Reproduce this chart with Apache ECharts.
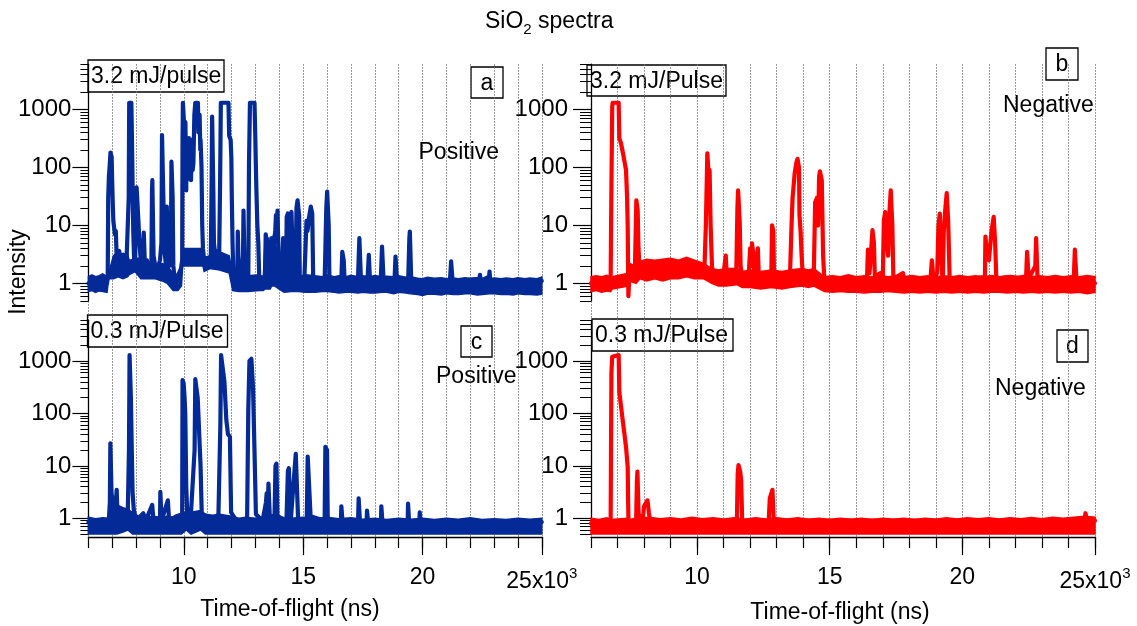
<!DOCTYPE html>
<html>
<head>
<meta charset="utf-8">
<script src="https://cdn.jsdelivr.net/npm/echarts@6/dist/echarts.min.js"></script>
<style>
html,body{margin:0;padding:0;background:#fff;}
#chart{width:1137px;height:626px;}
</style>
</head>
<body>
<div id="chart"></div>
<script>
// ---------------- data ----------------
const yMajorTicks = [1, 10, 100, 1000];
const yMinorTicks = [0.5,0.6,0.7,0.8,0.9,2,3,4,5,6,7,8,9,20,30,40,50,60,70,80,90,200,300,400,500,600,700,800,900,2000,3000,4000,5000,6000];
const xMajorTicks = [10000, 15000, 20000, 25000];

// panel a : positive, 3.2 mJ/pulse  [time-of-flight ns, intensity]
const tracePos32 = [[6000,1.0],[6780,1.0],[6810,1.3],[6830,30],[6860,70],[6900,120],[6925,180],[6950,180],[6975,150],[6995,60],[7020,25],[7045,12],[7080,9],[7110,7],[7150,8],[7180,3.2],[7240,3],[7290,3.6],[7340,2.8],[7400,2.6],[7460,3.1],[7520,2.2],[7600,2.6],[7660,2.8],[7690,30],[7710,1300],[7800,1300],[7825,300],[7850,55],[7880,8],[7920,2.2],[7960,2.5],[7990,10],[8020,45],[8070,48],[8095,12],[8130,6],[8180,3],[8240,2.4],[8300,4],[8320,7.5],[8345,7.5],[8370,2],[8450,2.5],[8550,1.6],[8640,2],[8665,40],[8680,60],[8705,60],[8730,3],[8800,2],[8900,1.8],[9000,2.5],[9060,5],[9085,360],[9110,360],[9140,30],[9180,4],[9250,2],[9285,21],[9310,21],[9335,3],[9400,2],[9460,4],[9480,125],[9505,125],[9530,30],[9560,2],[9620,1.1],[9700,1.1],[9800,1.5],[9880,1.8],[9930,2.5],[9945,300],[9960,1300],[10005,1300],[10030,400],[10045,100],[10065,600],[10085,150],[10100,40],[10115,300],[10130,60],[10150,300],[10170,120],[10185,250],[10210,320],[10230,80],[10250,180],[10280,300],[10300,60],[10320,150],[10350,250],[10370,90],[10400,120],[10440,800],[10480,1300],[10590,1300],[10610,400],[10630,600],[10660,800],[10690,200],[10700,300],[10740,100],[10770,10],[10800,4],[10850,2.5],[10950,2.2],[11050,2.5],[11130,3],[11165,60],[11185,750],[11205,750],[11235,40],[11260,5],[11320,3],[11400,3.5],[11480,3],[11520,60],[11550,1300],[11870,1300],[11900,350],[11960,300],[11990,150],[12010,30],[12040,5],[12080,1.2],[12150,1],[12240,1.2],[12260,7.8],[12285,7.8],[12310,1.2],[12400,1.1],[12480,3],[12500,18],[12525,18],[12550,1.2],[12650,1],[12700,1.2],[12730,120],[12770,1300],[12960,1300],[12990,400],[13030,60],[13080,10],[13120,5],[13160,1.2],[13300,1],[13400,1.2],[13430,7],[13480,5],[13530,1.1],[13600,4],[13680,6],[13720,3],[13780,5],[13830,8],[13860,15],[13890,8],[13925,18],[13955,18],[13990,1.2],[14100,1.1],[14160,6],[14185,6],[14210,1.1],[14280,1.2],[14310,14],[14360,16],[14400,10],[14430,1],[14470,12],[14510,17],[14535,17],[14560,3],[14600,1],[14680,1.2],[14720,20],[14765,27],[14795,27],[14830,15],[14860,1],[14950,1],[15050,1.2],[15140,12],[15180,8],[15250,14],[15320,21],[15350,21],[15380,16],[15420,1.2],[15500,1],[15700,1.1],[15900,1.1],[15970,20],[16005,38],[16035,38],[16070,10],[16100,1.2],[16300,1.1],[16600,1.2],[16640,3.5],[16665,3.5],[16700,2.5],[16740,1],[17000,1.1],[17300,1.3],[17355,6],[17385,6],[17420,1.2],[17700,1.2],[17750,3.1],[17775,3.1],[17800,1.1],[18250,1.1],[18305,4.3],[18335,4.3],[18370,1.1],[18830,1.2],[18870,2.9],[18895,2.9],[18930,1.1],[19400,1.1],[19450,6],[19470,7.8],[19495,7.8],[19530,1.1],[21150,1.1],[21200,2.4],[21225,2.4],[21260,1.1],[22380,1.2],[22410,1.4],[22440,1.1],[22790,1.3],[22810,1.6],[22840,1.1],[25000,1.1]];
// noise band of panel a  [ns, low edge, high edge]
const noisePos32 = [[6000,0.72,1.3],[6150,0.75,1.4],[6300,0.7,1.3],[6450,0.74,1.35],[6600,0.72,1.45],[6780,0.7,1.3],[6850,1.2,1.5],[7050,1.2,3],[7250,1.3,3.5],[7450,1.2,3],[7650,1.3,3.2],[7700,1.4,2.5],[7950,1.6,2.6],[8200,1.2,2.8],[8500,1.2,2.2],[8800,1.2,2.1],[9100,1.1,2.2],[9300,1.0,2],[9550,0.75,1.5],[9750,0.75,1.3],[9900,0.9,2],[9950,2,4],[10800,2,4],[10850,1.6,2.8],[11100,1.8,3],[11500,1.7,3.5],[11900,1.5,3],[12050,0.75,1.4],[12300,0.72,1.3],[12700,0.72,1.35],[13150,0.75,1.4],[13330,0.75,1.3],[13400,0.8,5],[13560,0.8,6],[13620,0.8,1.3],[13680,0.9,5],[13800,0.9,8],[13980,0.8,1.4],[14200,0.7,1.3],[14500,0.72,1.35],[14800,0.72,1.3],[15100,0.7,1.4],[15500,0.7,1.35],[15800,0.72,1.3],[16000,0.72,1.4],[16300,0.7,1.3],[16500,0.68,1.35],[16800,0.7,1.3],[17000,0.7,1.38],[17300,0.68,1.3],[17500,0.7,1.35],[17800,0.68,1.3],[18000,0.68,1.36],[18300,0.7,1.3],[18500,0.7,1.32],[18800,0.66,1.3],[19000,0.7,1.35],[19300,0.68,1.28],[19500,0.66,1.3],[19800,0.64,1.22],[20000,0.62,1.2],[20200,0.65,1.27],[20500,0.65,1.22],[20800,0.63,1.25],[21000,0.66,1.2],[21300,0.64,1.24],[21500,0.64,1.2],[21800,0.66,1.25],[22000,0.66,1.2],[22300,0.63,1.24],[22500,0.64,1.22],[22800,0.66,1.2],[23000,0.66,1.24],[23300,0.64,1.2],[23500,0.65,1.24],[23800,0.63,1.2],[24000,0.66,1.25],[24300,0.64,1.2],[24500,0.64,1.24],[24800,0.63,1.2],[25000,0.65,1.28]];

// panel b : negative, 3.2 mJ/pulse
const traceNeg32 = [[6000,1.0],[6740,1.1],[6770,50],[6800,1100],[6816,1300],[7043,1300],[7068,320],[7130,260],[7200,180],[7320,90],[7360,30],[7383,10],[7410,0.6],[7430,0.6],[7450,1.5],[7500,2],[7550,1.2],[7600,2],[7650,1.3],[7690,10],[7710,27],[7735,27],[7760,18],[7790,4],[7830,1.8],[7900,2],[8000,1.6],[8200,2.1],[8500,1.7],[8800,2.2],[9100,1.8],[9400,2.3],[9700,1.9],[10000,2.2],[10200,1.8],[10280,2],[10330,10],[10365,60],[10385,175],[10410,175],[10440,70],[10470,90],[10510,10],[10560,2],[10620,1.2],[10800,1.3],[11000,1.5],[11080,3],[11120,1.3],[11480,1.8],[11520,20],[11545,40],[11570,40],[11605,12],[11640,2],[11700,1.3],[11950,1.5],[12000,4],[12040,2],[12070,4.9],[12095,4.9],[12130,3],[12160,1.2],[12260,3],[12290,4],[12330,1.2],[12600,1.2],[12800,1.5],[12825,10],[12850,10],[12875,8],[12900,1.2],[13200,1.2],[13500,1.3],[13560,10],[13600,30],[13680,80],[13740,120],[13785,140],[13815,140],[13840,100],[13860,15],[13900,8],[13940,3],[13980,1.5],[14100,1.6],[14200,1.2],[14400,1.5],[14450,25],[14520,30],[14560,10],[14600,70],[14630,85],[14660,85],[14700,60],[14750,3],[14800,1.1],[16400,1.0],[16440,3.8],[16465,3.8],[16500,1.5],[16580,5],[16610,8.3],[16635,8.3],[16665,5],[16700,1.3],[16900,1.5],[17000,1.2],[17040,12],[17090,17],[17150,5],[17200,3],[17260,20],[17300,40],[17330,40],[17360,10],[17400,1.2],[17760,1.5],[17800,1.2],[18800,1.2],[18850,2.5],[18875,2.5],[18910,1.2],[19050,1.5],[19100,10],[19150,16],[19200,3],[19260,1],[19300,8],[19360,20],[19410,36],[19435,36],[19465,12],[19520,1.2],[20000,1.1],[20850,1.3],[20870,6.4],[20895,6.4],[20930,3],[21000,2.5],[21100,8],[21180,14],[21205,14],[21235,5],[21280,1.2],[21800,1.3],[22400,1.2],[22440,3.5],[22465,3.5],[22500,1.2],[22750,2],[22780,6],[22805,6],[22835,1.2],[24200,1.2],[24240,3.8],[24265,3.8],[24300,1.2],[25000,1.0]];
const noiseNeg32 = [[6000,0.72,1.3],[6200,0.75,1.35],[6400,0.7,1.3],[6600,0.74,1.38],[6740,0.72,1.3],[6800,0.8,1.3],[7400,0.9,1.5],[7450,1.1,2.2],[7700,1.0,2],[7850,1.2,2.4],[8100,1.1,2.6],[8400,1.2,2.5],[8700,1.1,2.6],[9000,1.2,2.7],[9300,1.2,2.5],[9600,1.3,2.8],[9900,1.2,2.5],[10250,1.2,2.2],[10550,1.0,1.8],[10800,0.9,1.7],[11100,0.9,1.8],[11500,0.95,1.8],[11700,0.85,1.6],[12000,0.85,1.7],[12400,0.8,1.6],[12800,0.85,1.7],[13200,0.8,1.6],[13500,0.85,1.7],[13950,0.9,1.8],[14200,0.85,1.7],[14400,0.9,1.8],[14800,0.72,1.3],[15100,0.7,1.35],[15400,0.72,1.3],[15700,0.7,1.4],[16000,0.7,1.3],[16300,0.68,1.35],[16600,0.7,1.3],[16900,0.7,1.36],[17200,0.72,1.3],[17500,0.7,1.35],[17800,0.68,1.3],[18100,0.7,1.36],[18400,0.68,1.3],[18700,0.7,1.35],[19000,0.68,1.3],[19300,0.7,1.35],[19600,0.68,1.3],[19900,0.7,1.36],[20200,0.68,1.3],[20500,0.7,1.35],[20800,0.68,1.3],[21100,0.7,1.36],[21400,0.7,1.3],[21700,0.68,1.35],[22000,0.7,1.3],[22300,0.68,1.36],[22600,0.7,1.3],[22900,0.68,1.35],[23200,0.7,1.3],[23500,0.68,1.36],[23800,0.7,1.3],[24100,0.68,1.35],[24400,0.7,1.3],[24700,0.66,1.36],[25000,0.7,1.3]];

// panel c : positive, 0.3 mJ/pulse
const tracePos03 = [[6000,0.85],[6850,0.85],[6900,2],[6920,27],[6945,27],[6970,3],[7010,2.2],[7060,1],[7150,2],[7185,3.5],[7220,1.2],[7300,1.5],[7400,1.2],[7500,1.2],[7650,1.3],[7700,20],[7725,1300],[7755,1300],[7780,200],[7810,30],[7850,3.2],[7900,1.5],[8000,0.9],[8300,1.25],[8400,0.9],[8675,1.8],[8700,1.8],[8725,0.9],[9000,0.9],[9015,3.2],[9040,3.2],[9065,0.9],[9330,2.2],[9355,2.2],[9380,0.9],[9700,1.1],[9930,1.2],[9945,430],[9990,380],[10030,200],[10060,100],[10100,4],[10150,1],[10300,1.3],[10450,20],[10480,450],[10530,430],[10580,200],[10660,210],[10700,10],[10750,1.2],[11000,1.1],[11300,1],[11450,1.2],[11530,60],[11560,1300],[11640,1350],[11700,400],[11780,75],[11850,40],[11930,36],[11980,1.3],[12200,0.9],[12650,0.9],[12700,117],[12750,1000],[12830,1100],[12900,300],[12960,20],[13020,1.2],[13300,0.9],[13440,2],[13470,3],[13500,0.9],[13545,4.6],[13570,4.6],[13600,1.1],[13800,1.1],[13840,10],[13880,11],[13920,1.1],[14300,0.9],[14360,8],[14400,9],[14440,8.3],[14480,0.9],[14690,17],[14750,17],[14790,0.9],[15150,0.9],[15190,15],[15270,15],[15310,1.1],[15900,0.9],[15930,23],[15975,23],[16000,20],[16030,0.9],[16580,0.85],[16600,1.7],[16625,1.7],[16650,0.85],[17300,0.85],[17325,2.4],[17350,2.4],[17380,0.85],[17660,0.85],[17675,1.4],[17700,1.4],[17720,0.85],[18260,0.85],[18275,1.7],[18300,1.7],[18320,0.85],[19380,0.85],[19395,1.9],[19420,1.9],[19440,0.85],[19870,0.85],[19885,1.3],[19905,1.3],[19920,0.85],[25000,0.85]];
const noisePos03 = [[6000,0.5,1.05],[6300,0.5,0.98],[6600,0.5,1.02],[6850,0.5,1.0],[6950,0.5,2],[7200,0.5,1.8],[7450,0.55,1.6],[7650,0.6,1.5],[7850,0.5,1.3],[8100,0.5,1.1],[8400,0.5,1.05],[8700,0.5,1.1],[9000,0.5,1.05],[9300,0.5,1.1],[9600,0.5,1.05],[9900,0.5,1.1],[10100,0.6,1.4],[10300,0.5,1.3],[10700,0.6,1.4],[10900,0.5,1.2],[11200,0.5,1.15],[11500,0.5,1.2],[11990,0.5,1.1],[12300,0.5,1.0],[12600,0.5,1.05],[13000,0.5,1.0],[13300,0.5,1.05],[13600,0.5,1.0],[14000,0.5,1.05],[14500,0.5,1.0],[15000,0.5,1.05],[15500,0.5,0.98],[16000,0.5,1.05],[16500,0.5,0.98],[17000,0.5,1.02],[17500,0.5,0.96],[18000,0.5,1.0],[18500,0.5,0.95],[19000,0.5,1.0],[19500,0.5,0.96],[20000,0.5,1.0],[20500,0.5,0.95],[21000,0.5,1.0],[21500,0.5,0.96],[22000,0.5,1.02],[22500,0.5,0.95],[23000,0.5,0.98],[23500,0.5,0.95],[24000,0.5,1.0],[24500,0.5,0.96],[25000,0.5,1.0]];

// panel d : negative, 0.3 mJ/pulse
const traceNeg03 = [[6000,0.8],[6740,0.85],[6770,600],[6800,1200],[6816,1300],[7043,1300],[7070,250],[7194,75],[7320,23],[7383,9.7],[7400,2],[7420,0.55],[7500,0.75],[7700,0.8],[7730,5],[7750,7.8],[7770,7.8],[7795,1.2],[7950,0.9],[8000,1.7],[8080,2],[8130,2.2],[8180,1.3],[8230,0.85],[11500,0.85],[11530,7],[11560,10.4],[11590,10.4],[11620,8],[11660,5.4],[11700,0.9],[12700,0.9],[12740,2.4],[12780,2.8],[12840,3.5],[12865,3.5],[12890,0.9],[24600,0.9],[24640,1.25],[24665,1.25],[24700,0.9],[25000,0.9]];
const noiseNeg03 = [[6000,0.5,1.0],[6300,0.5,0.95],[6600,0.5,1.02],[6740,0.5,0.95],[7400,0.5,1.0],[7450,0.5,0.95],[7700,0.5,1.0],[8200,0.5,1.05],[8600,0.5,0.98],[9000,0.5,1.02],[9400,0.5,0.97],[9800,0.5,1.05],[10200,0.5,0.98],[10600,0.5,1.02],[11000,0.5,0.97],[11400,0.5,1.03],[11800,0.5,0.96],[12200,0.5,1.02],[12600,0.5,0.97],[13000,0.5,1.03],[13400,0.5,0.97],[13800,0.5,1.02],[14200,0.5,0.96],[14600,0.5,1.0],[15000,0.5,0.95],[15400,0.5,1.0],[15800,0.5,0.96],[16200,0.5,1.0],[16600,0.5,0.95],[17000,0.5,1.0],[17400,0.5,0.96],[17800,0.5,1.0],[18200,0.5,0.95],[18600,0.5,1.0],[19000,0.5,0.96],[19400,0.5,1.02],[19800,0.5,0.97],[20200,0.5,1.02],[20600,0.5,0.98],[21000,0.5,1.02],[21400,0.5,0.97],[21800,0.5,1.02],[22200,0.5,0.98],[22600,0.5,1.04],[23000,0.5,0.98],[23400,0.5,1.05],[23800,0.5,1.0],[24200,0.5,1.05],[24600,0.5,1.1],[25000,0.5,1.05]];

// ---------------- chart ----------------
const FONT = '"Liberation Sans", Arial, Helvetica, sans-serif';
const BLUE = '#032a97';
const RED = '#ff0000';
const X_MIN = 6000, X_MAX = 25000;
const Y_MIN = 0.5, Y_MAX = 6000;

const chart = echarts.init(document.getElementById('chart'), null, {renderer: 'canvas'});

const L_LEFT = 88.4, L_W = 453.4, R_LEFT = 591, R_W = 504;
const TOP_T = 64.2, TOP_H = 236.6, BOT_T = 320.2, BOT_H = 213.9;

function gridBox(left, top, width, height) {
  return {left, top, width, height, containLabel: false, outerBoundsMode: 'none', show: false};
}

function yMain(gi, margin, len) {
  return {type: 'log', logBase: 10, gridIndex: gi, min: Y_MIN, max: Y_MAX, position: 'left',
    axisLine: {show: true, onZero: false, lineStyle: {color: '#000', width: 1.3}},
    axisTick: {show: true, customValues: yMajorTicks, length: len, lineStyle: {color: '#000', width: 1.2}},
    axisLabel: {show: true, customValues: yMajorTicks, margin, fontSize: 24, fontFamily: FONT, color: '#000',
      formatter: v => String(Math.round(v))},
    splitLine: {show: false}, minorTick: {show: false}};
}
function yMinor(gi, len) {
  return {type: 'log', logBase: 10, gridIndex: gi, min: Y_MIN, max: Y_MAX, position: 'left',
    axisLine: {show: false},
    axisTick: {show: true, customValues: yMinorTicks, length: len, lineStyle: {color: '#000', width: 1}},
    axisLabel: {show: false}, splitLine: {show: false}};
}
function xHidden(gi) {
  return {type: 'value', gridIndex: gi, min: X_MIN, max: X_MAX, interval: 1000, show: false,
    splitLine: {show: false}};
}
function xBottomMinor(gi) {
  return {type: 'value', gridIndex: gi, min: X_MIN, max: X_MAX, interval: 1000, position: 'bottom', offset: 3,
    axisLine: {show: true, onZero: false, lineStyle: {color: '#000', width: 1.3}},
    axisTick: {show: true, length: 11, lineStyle: {color: '#000', width: 1.2}},
    axisLabel: {show: true, margin: 29, fontSize: 23, lineHeight: 23, fontFamily: FONT, color: '#000',
      formatter: v => {
        if (v === 25000) return '{a|25x10}{e|3}';
        if (xMajorTicks.indexOf(v) >= 0) return String(v / 1000);
        return '';
      },
      rich: {
        a: {fontSize: 23, lineHeight: 23, fontFamily: FONT, color: '#000', padding: [8, 0, 0, 0]},
        e: {fontSize: 15, lineHeight: 15, fontFamily: FONT, color: '#000', verticalAlign: 'top'}
      }},
    splitLine: {show: false}};
}
function xBottomMajor(gi) {
  return {type: 'value', gridIndex: gi, min: X_MIN, max: X_MAX, interval: 1000, position: 'bottom', offset: 3,
    axisLine: {show: false},
    axisTick: {show: true, customValues: xMajorTicks, length: 18, lineStyle: {color: '#000', width: 1.2}},
    axisLabel: {show: false}, splitLine: {show: false}};
}
function xGridLines(gi) {
  return {type: 'value', gridIndex: gi, min: X_MIN, max: X_MAX, interval: 1000, position: 'bottom',
    axisLine: {show: false}, axisTick: {show: false}, axisLabel: {show: false},
    splitLine: {show: true, lineStyle: {color: '#7a7a7a', width: 1, type: [1.5, 1.5]}}};
}

function bandSeries(band, xi, yi, color) {
  return {
    type: 'custom', xAxisIndex: xi, yAxisIndex: yi, data: band, silent: true,
    encode: {x: 0, y: [1, 2]},
    renderItem: function (params, api) {
      if (params.dataIndex !== 0) return null;
      const pts = [];
      for (let i = 0; i < band.length; i++) pts.push(api.coord([band[i][0], band[i][2]]));
      for (let i = band.length - 1; i >= 0; i--) pts.push(api.coord([band[i][0], band[i][1]]));
      return {type: 'polygon', shape: {points: pts}, style: {fill: color, stroke: color, lineWidth: 1.5}};
    },
    z: 3
  };
}
function traceSeries(trace, xi, yi, color) {
  return {type: 'line', xAxisIndex: xi, yAxisIndex: yi, data: trace, showSymbol: false, symbol: 'none',
    lineStyle: {color, width: 4.2, join: 'round', cap: 'round'}, clip: true, silent: true, z: 4};
}

function boxLabel(x, y, w, h, text, centered) {
  return {type: 'group', z: 100, children: [
    {type: 'rect', shape: {x, y, width: w, height: h}, style: {fill: '#fff', stroke: '#000', lineWidth: 1.3}},
    {type: 'text', x: centered ? x + w / 2 : x + 3, y: y + h / 2 + 1,
      style: {text, font: '23px ' + FONT, fill: '#000', align: centered ? 'center' : 'left', verticalAlign: 'middle'}}
  ]};
}
function freeText(x, y, text, align, rot) {
  return {type: 'text', x, y, rotation: rot || 0, z: 100,
    style: {text, font: '23px ' + FONT, fill: '#000', align: align || 'left', verticalAlign: 'middle'}};
}

const option = {
  animation: false,
  backgroundColor: '#fff',
  title: {
    text: '{m|SiO}{s|2}{m| spectra}', left: 485, top: 10, padding: 0,
    textStyle: {fontSize: 23, fontWeight: 'normal', fontFamily: FONT, color: '#000',
      rich: {
        m: {fontSize: 23, lineHeight: 23, fontFamily: FONT, color: '#000', verticalAlign: 'top'},
        s: {fontSize: 15, lineHeight: 15, fontFamily: FONT, color: '#000', padding: [12, 0, 0, 0], verticalAlign: 'top'}
      }}
  },
  grid: [
    gridBox(L_LEFT, TOP_T, L_W, TOP_H),   // 0 a
    gridBox(R_LEFT, TOP_T, R_W, TOP_H),   // 1 b
    gridBox(L_LEFT, BOT_T, L_W, BOT_H),   // 2 c
    gridBox(R_LEFT, BOT_T, R_W, BOT_H),   // 3 d
    gridBox(L_LEFT, TOP_T, L_W, BOT_T + BOT_H + 3 - TOP_T), // 4 left grid lines
    gridBox(R_LEFT, TOP_T, R_W, BOT_T + BOT_H + 3 - TOP_T)  // 5 right grid lines
  ],
  xAxis: [
    xHidden(0), xHidden(1), xBottomMinor(2), xBottomMinor(3),
    xBottomMajor(2), xBottomMajor(3), xGridLines(4), xGridLines(5)
  ],
  yAxis: [
    yMain(0, 17, 16), yMain(1, 23, 18), yMain(2, 17, 16), yMain(3, 23, 18),
    yMinor(0, 8), yMinor(1, 11), yMinor(2, 8), yMinor(3, 11),
    {type: 'value', gridIndex: 4, show: false, min: 0, max: 1},
    {type: 'value', gridIndex: 5, show: false, min: 0, max: 1}
  ],
  series: [
    bandSeries(noisePos32, 0, 0, BLUE), traceSeries(tracePos32, 0, 0, BLUE),
    bandSeries(noiseNeg32, 1, 1, RED), traceSeries(traceNeg32, 1, 1, RED),
    bandSeries(noisePos03, 2, 2, BLUE), traceSeries(tracePos03, 2, 2, BLUE),
    bandSeries(noiseNeg03, 3, 3, RED), traceSeries(traceNeg03, 3, 3, RED)
  ],
  graphic: [
    boxLabel(88, 60, 136, 32, '3.2 mJ/pulse', false),
    boxLabel(471, 67, 32, 31, 'a', true),
    boxLabel(587, 65, 139, 31, '3.2 mJ/Pulse', false),
    boxLabel(1046, 48, 32, 32, 'b', true),
    boxLabel(87.5, 315, 140, 32, '0.3 mJ/Pulse', false),
    boxLabel(461, 326, 31, 31, 'c', true),
    boxLabel(592, 319, 141, 32, '0.3 mJ/Pulse', false),
    boxLabel(1057, 330, 31, 32, 'd', true),
    freeText(418.5, 152.5, 'Positive'),
    freeText(1003, 106, 'Negative'),
    freeText(436, 377, 'Positive'),
    freeText(995, 388.5, 'Negative'),
    freeText(290, 610, 'Time-of-flight (ns)', 'center'),
    freeText(840, 613, 'Time-of-flight (ns)', 'center'),
    freeText(19, 272, 'Intensity', 'center', Math.PI / 2)
  ]
};
chart.setOption(option);
</script>
</body>
</html>
